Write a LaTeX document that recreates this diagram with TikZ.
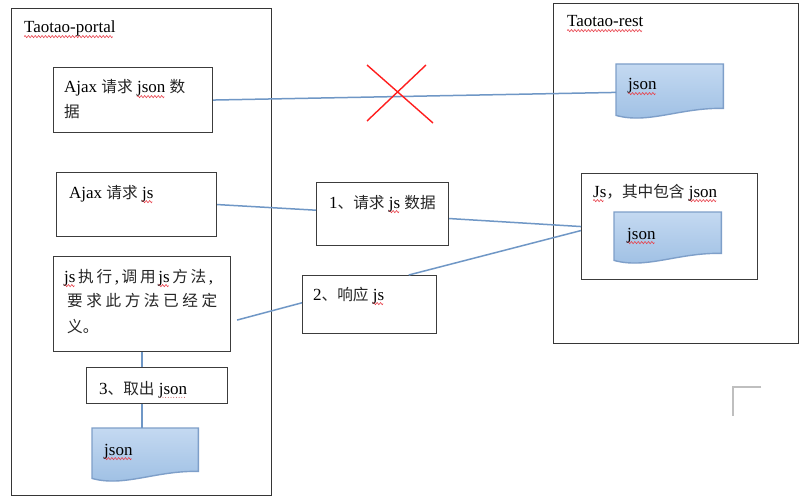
\documentclass[tikz,border=0pt]{standalone}
\usepackage{fontspec}
\setmainfont{Liberation Serif}
\newfontfamily\cjkfont{Noto Sans CJK SC}[Scale=0.92,Color=262626]
\newcommand\cjk[1]{{\cjkfont #1}}
\usetikzlibrary{calc}
\definecolor{conn}{HTML}{6F97C6}
\definecolor{boxc}{HTML}{3C3C3C}
\definecolor{docl}{HTML}{7E9FC9}
\definecolor{doct}{HTML}{C4D9F1}
\definecolor{docb}{HTML}{9CBEE3}
\definecolor{xred}{HTML}{FF1E1E}
\definecolor{sqred}{HTML}{E8404A}
\newcommand\zzmark{\tikz[x=1pt,y=1pt,baseline=0pt]{\path[use as bounding box] (0,0) rectangle (3.4,0.01);\draw[sqred,line width=0.6pt] (0,-3.6) -- (0.85,-2.5) -- (2.55,-4.7) -- (3.4,-3.6);}}
\newcommand\dotmark{\tikz[x=1pt,y=1pt,baseline=0pt]{\path[use as bounding box] (0,0) rectangle (2.7,0.01);\fill[sqred!70!gray] (1.35,-3.4) circle (0.5);}}
\newsavebox\sqbox
\newcommand\sq[1]{\sbox\sqbox{#1}\rlap{\leaders\hbox{\zzmark}\hskip\wd\sqbox}\usebox\sqbox}
\newcommand\dq[1]{\sbox\sqbox{#1}\rlap{\leaders\hbox{\dotmark}\hskip\wd\sqbox}\usebox\sqbox}
\newcommand\docshape[1]{\path[docsh] (#1.north west) -- (#1.north east) -- (#1.south east)
  .. controls ($(#1.south west)!0.6!(#1.south east)+(0,-1)$) and ($(#1.south west)!0.3!(#1.south east)+(0,16)$) .. ($(#1.south west)+(0,7)$) -- cycle;}
\begin{document}
\begin{tikzpicture}[x=1pt,y=-1pt,
  txt/.style={anchor=base west,inner sep=0pt,font=\fontsize{17}{25}\selectfont},
  frame/.style={draw=boxc!90!black,line width=0.9pt,inner sep=0pt,anchor=north west},
  bx/.style={draw=boxc,line width=1.1pt,fill=white,inner sep=0pt,anchor=north west},
  docnode/.style={inner sep=0pt,anchor=north west},
  conn/.style={draw=conn,line width=1.5pt},
  docsh/.style={draw=docl,line width=1.4pt,top color=doct,bottom color=docb}
]
\useasboundingbox[fill=white] (0,0) rectangle (800,497);
% frames
\node[frame,minimum width=260pt,minimum height=487pt] (portal) at (11,8) {};
\node[frame,minimum width=245pt,minimum height=340pt] (rest) at (553,3) {};
\node[txt] (tp) at (24,33) {\sq{Taotao-portal}};
\node[txt] (tr) at (567,27) {\sq{Taotao-rest}};
% boxes
\node[bx,minimum width=159pt,minimum height=65pt] (A) at (53,67) {};
\node[bx,minimum width=160pt,minimum height=64pt] (B) at (56,172) {};
\node[bx,minimum width=177pt,minimum height=95pt] (C) at (53,256) {};
\node[bx,minimum width=141pt,minimum height=36pt] (D) at (86,367) {};
\node[bx,minimum width=132pt,minimum height=63pt] (P1) at (316,182) {};
\node[bx,minimum width=134pt,minimum height=58pt] (P2) at (302,275) {};
\node[bx,minimum width=176pt,minimum height=106pt] (E) at (581,173) {};
% documents
\node[docnode,minimum width=107pt,minimum height=44pt] (J1) at (616,64) {};
\node[docnode,minimum width=107pt,minimum height=41pt] (J2) at (614,212) {};
\node[docnode,minimum width=106pt,minimum height=43pt] (J3) at (92,428) {};
\docshape{J1}
\docshape{J2}
\docshape{J3}
% connectors
\draw[conn] (A.east) -- ($(J1.north west)!0.64!(J1.south west)$);
\draw[conn] (B.east) -- ($(P1.north west)!0.44!(P1.south west)$);
\draw[conn] ($(P1.north east)!0.57!(P1.south east)$) -- (E.west);
\draw[conn] ($(E.west)+(0,4)$) -- ($(P2.north west)!0.79!(P2.north east)$);
\coordinate (cend) at ($(C.east)+(6,16)$);
\draw[conn] ($(P2.north west)!0.47!(P2.south west)$) -- (cend);
\draw[conn] (C.south) -- (C.south |- D.north);
\draw[conn] (C.south |- D.south) -- (C.south |- J3.north);
% red cross
\draw[xred,line width=1.4pt] (367,65) -- (433,123) (426,65) -- (367,121);
% corner mark
\draw[gray!50,line width=1.3pt] (761,387) -- (733,387) -- (733,416);
% texts
\node[txt] (A1) at (64,93) {Ajax \cjk{请求} \sq{json} \cjk{数}};
\node[txt] (A2) at (64,118) {\cjk{据}};
\node[txt] (B1) at (69,198) {Ajax \cjk{请求} \sq{js}};
\node[txt] (C1) at (64,282) {\makebox[149pt][s]{\sq{js}\hfil\cjk{执}\hfil\cjk{行}\hfil,\hfil\cjk{调}\hfil\cjk{用}\hfil\sq{js}\hfil\cjk{方}\hfil\cjk{法}\hfil,}};
\node[txt] (C2) at (67,306) {\makebox[150pt][s]{\cjk{要}\hfil\cjk{求}\hfil\cjk{此}\hfil\cjk{方}\hfil\cjk{法}\hfil\cjk{已}\hfil\cjk{经}\hfil\cjk{定}}};
\node[txt] (C3) at (67,332) {\cjk{义。}};
\node[txt] (D1) at (99,394) {3\cjk{、取出} \dq{json}};
\node[txt] (P1t) at (329,208) {1\cjk{、请求} \sq{js} \cjk{数据}};
\node[txt] (P2t) at (313,300) {2\cjk{、响应} \sq{js}};
\node[txt] (Et) at (593,197) {\sq{Js}\cjk{，其中包含} \sq{json}};
\node[txt] (J1t) at (628,90) {\sq{json}};
\node[txt] (J2t) at (627,239) {\sq{json}};
\node[txt] (J3t) at (104,455) {\sq{json}};
\end{tikzpicture}
\end{document}
